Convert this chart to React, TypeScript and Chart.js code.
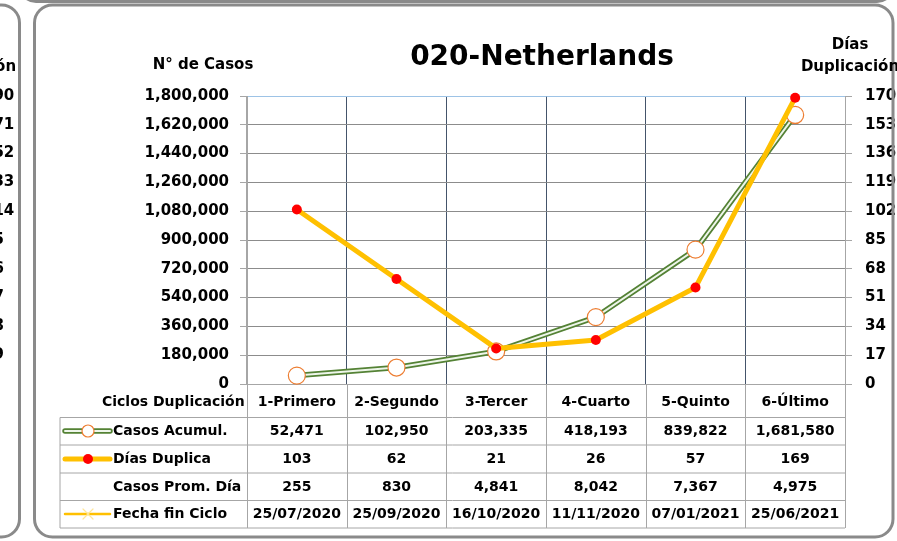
import React, { useEffect, useRef } from 'react';
import { Chart, registerables } from 'chart.js';

Chart.register(...registerables);

const TITLE = '020-Netherlands';
const LEFT_AXIS_TITLE = 'N° de Casos';
const RIGHT_AXIS_TITLE = ['Días', 'Duplicación'];
const TABLE_HEADER = 'Ciclos Duplicación';

const categories = ['1-Primero', '2-Segundo', '3-Tercer', '4-Cuarto', '5-Quinto', '6-Último'];
const casosAcumul = [52471, 102950, 203335, 418193, 839822, 1681580];
const diasDuplica = [103, 62, 21, 26, 57, 169];
const casosPromDia = [255, 830, 4841, 8042, 7367, 4975];
const fechaFinCiclo = ['25/07/2020', '25/09/2020', '16/10/2020', '11/11/2020', '07/01/2021', '25/06/2021'];

const rowLabels = ['Casos Acumul.', 'Días Duplica', 'Casos Prom. Día', 'Fecha fin Ciclo'];

const leftAxisMax = 1800000;
const leftAxisStep = 180000;
const rightAxisMax = 170;
const rightAxisStep = 17;

// clipped tick labels of the neighbouring (previous) panel
const prevPanelTicks = ['190', '171', '152', '133', '114', '95', '76', '57', '38', '19', '0'];

const FONT = '"DejaVu Sans", sans-serif';
const fmt = (v: number) => Number(v).toLocaleString('en-US');

function roundRectPath(ctx: CanvasRenderingContext2D, x: number, y: number, w: number, h: number, r: number) {
  ctx.beginPath();
  ctx.moveTo(x + r, y);
  ctx.lineTo(x + w - r, y);
  ctx.arcTo(x + w, y, x + w, y + r, r);
  ctx.lineTo(x + w, y + h - r);
  ctx.arcTo(x + w, y + h, x + w - r, y + h, r);
  ctx.lineTo(x + r, y + h);
  ctx.arcTo(x, y + h, x, y + h - r, r);
  ctx.lineTo(x, y + r);
  ctx.arcTo(x, y, x + r, y, r);
  ctx.closePath();
}

const decorPlugin = {
  id: 'decor',
  beforeDraw(chart: any) {
    const ctx = chart.ctx as CanvasRenderingContext2D;
    ctx.save();
    ctx.fillStyle = '#FFFFFF';
    ctx.fillRect(0, 0, chart.width, chart.height);
    ctx.restore();
  },
  afterDraw(chart: any) {
    const ctx = chart.ctx as CanvasRenderingContext2D;
    const xs = chart.scales.x;
    const yR = chart.scales.yR;
    ctx.save();

    // panel frames
    ctx.strokeStyle = '#8A8A8A';
    ctx.lineWidth = 3;
    roundRectPath(ctx, 20, -40, 873, 41.5, 16);
    ctx.stroke();
    roundRectPath(ctx, -860, 5, 879.5, 532, 18);
    ctx.stroke();
    roundRectPath(ctx, 34.5, 5, 858.5, 532, 18);
    ctx.stroke();

    // neighbouring panel fragments
    ctx.save();
    ctx.beginPath();
    ctx.rect(0, 0, 17.5, chart.height);
    ctx.clip();
    ctx.fillStyle = '#000';
    ctx.font = `bold 15px ${FONT}`;
    ctx.textAlign = 'left';
    ctx.textBaseline = 'middle';
    prevPanelTicks.forEach((t, i) => {
      ctx.fillText(t, 866 - 883, yR.getPixelForValue(rightAxisMax - rightAxisStep * i));
    });
    ctx.textAlign = 'center';
    ctx.fillText(RIGHT_AXIS_TITLE[0], 850 - 883, 45);
    ctx.fillText(RIGHT_AXIS_TITLE[1], 850 - 883, 67);
    ctx.restore();

    // title and axis titles
    ctx.fillStyle = '#000';
    ctx.textBaseline = 'middle';
    ctx.textAlign = 'center';
    ctx.font = `bold 28px ${FONT}`;
    ctx.fillText(TITLE, 542, 58);
    ctx.font = `bold 15px ${FONT}`;
    ctx.fillText(LEFT_AXIS_TITLE, 203, 65);
    ctx.fillText(RIGHT_AXIS_TITLE[0], 850, 45);
    ctx.fillText(RIGHT_AXIS_TITLE[1], 850, 67);

    // data table
    const right = xs.right;
    const tableLeft = 60;
    const axisY = xs.top;
    const rowLines = [417.5, 445, 473, 500.5, 528];
    const rowCenters = [431, 459, 487, 514];
    const colW = xs.getPixelForValue(1) - xs.getPixelForValue(0);

    ctx.strokeStyle = '#A6A6A6';
    ctx.lineWidth = 1;
    rowLines.forEach((yy) => {
      ctx.beginPath();
      ctx.moveTo(tableLeft, yy);
      ctx.lineTo(right, yy);
      ctx.stroke();
    });
    ctx.beginPath();
    ctx.moveTo(tableLeft, rowLines[0]);
    ctx.lineTo(tableLeft, rowLines[rowLines.length - 1]);
    ctx.stroke();
    for (let i = 0; i <= categories.length; i++) {
      const gx = i < categories.length ? xs.getPixelForValue(i) - colW / 2 : right;
      ctx.beginPath();
      ctx.moveTo(Math.round(gx) + 0.5, axisY);
      ctx.lineTo(Math.round(gx) + 0.5, rowLines[rowLines.length - 1]);
      ctx.stroke();
    }

    ctx.fillStyle = '#000';
    ctx.font = `bold 14px ${FONT}`;
    ctx.textAlign = 'left';
    ctx.fillText(TABLE_HEADER, 102, 402);
    rowLabels.forEach((lab, r) => ctx.fillText(lab, 113, rowCenters[r]));

    ctx.textAlign = 'center';
    const rows = [casosAcumul.map(fmt), diasDuplica.map(fmt), casosPromDia.map(fmt), fechaFinCiclo];
    rows.forEach((vals, r) => {
      vals.forEach((v, i) => ctx.fillText(String(v), xs.getPixelForValue(i), rowCenters[r] + 0.5));
    });

    // legend keys
    const kx0 = 65, kx1 = 110, kc = 88;
    let ky = rowCenters[0];
    ctx.lineCap = 'round';
    ctx.strokeStyle = '#548235';
    ctx.lineWidth = 5.5;
    ctx.beginPath(); ctx.moveTo(kx0, ky); ctx.lineTo(kx1, ky); ctx.stroke();
    ctx.strokeStyle = '#EEF6EA';
    ctx.lineWidth = 2;
    ctx.beginPath(); ctx.moveTo(kx0, ky); ctx.lineTo(kx1, ky); ctx.stroke();
    ctx.beginPath(); ctx.arc(kc, ky, 6, 0, Math.PI * 2);
    ctx.fillStyle = '#FFFFFF'; ctx.fill();
    ctx.strokeStyle = '#ED7D31'; ctx.lineWidth = 1.2; ctx.stroke();

    ky = rowCenters[1];
    ctx.strokeStyle = '#FFC000';
    ctx.lineWidth = 5;
    ctx.beginPath(); ctx.moveTo(kx0, ky); ctx.lineTo(kx1, ky); ctx.stroke();
    ctx.beginPath(); ctx.arc(kc, ky, 5, 0, Math.PI * 2);
    ctx.fillStyle = '#FF0000'; ctx.fill();

    ky = rowCenters[3];
    ctx.strokeStyle = '#FFC000';
    ctx.lineWidth = 2.5;
    ctx.beginPath(); ctx.moveTo(kx0, ky); ctx.lineTo(kx1, ky); ctx.stroke();
    ctx.strokeStyle = '#FFE699';
    ctx.lineWidth = 1.2;
    ctx.beginPath();
    ctx.moveTo(kc - 5, ky - 5); ctx.lineTo(kc + 5, ky + 5);
    ctx.moveTo(kc - 5, ky + 5); ctx.lineTo(kc + 5, ky - 5);
    ctx.stroke();

    ctx.restore();
  },
};

export default function App() {
  const canvasRef = useRef<HTMLCanvasElement | null>(null);

  useEffect(() => {
    if (!canvasRef.current) return;
    const tickFont = { family: FONT, size: 15, weight: 'bold' as const };
    const chart = new Chart(canvasRef.current, {
      type: 'line',
      data: {
        labels: categories,
        datasets: [
          {
            label: 'Días Duplica',
            data: diasDuplica,
            yAxisID: 'yR',
            borderColor: '#FFC000',
            borderWidth: 5,
            borderJoinStyle: 'round',
            pointRadius: 5,
            pointBackgroundColor: '#FF0000',
            pointBorderColor: '#FF0000',
            pointBorderWidth: 0,
            tension: 0,
            clip: false,
            order: 0,
          },
          {
            label: 'Casos Acumul. (marcadores)',
            data: casosAcumul,
            yAxisID: 'yL',
            showLine: false,
            pointRadius: 8.5,
            pointBackgroundColor: '#FFFFFF',
            pointBorderColor: '#ED7D31',
            pointBorderWidth: 1.2,
            clip: false,
            order: 1,
          },
          {
            label: 'Casos Acumul. (interior)',
            data: casosAcumul,
            yAxisID: 'yL',
            borderColor: '#EEF6EA',
            borderWidth: 2,
            pointRadius: 0,
            tension: 0,
            clip: false,
            order: 2,
          },
          {
            label: 'Casos Acumul.',
            data: casosAcumul,
            yAxisID: 'yL',
            borderColor: '#548235',
            borderWidth: 5.5,
            borderJoinStyle: 'round',
            pointRadius: 0,
            tension: 0,
            clip: false,
            order: 3,
          },
        ],
      },
      options: {
        responsive: false,
        animation: false,
        events: [],
        layout: { padding: { top: 96, left: 0, right: 0, bottom: 0 } },
        plugins: {
          legend: { display: false },
          tooltip: { enabled: false },
          title: { display: false },
        },
        scales: {
          x: {
            type: 'category',
            offset: true,
            grid: {
              offset: true,
              drawTicks: false,
              lineWidth: 1,
              color: (c: any) => (c.index === 0 || c.index >= categories.length ? '#A6A6A6' : '#44546A'),
            },
            border: { display: true, color: '#A6A6A6' },
            ticks: {
              font: { family: FONT, size: 14, weight: 'bold' },
              color: '#000',
              padding: 10,
              maxRotation: 0,
              autoSkip: false,
            },
            afterFit: (s: any) => {
              s.height = 157;
            },
          },
          yL: {
            position: 'left',
            min: 0,
            max: leftAxisMax,
            ticks: {
              stepSize: leftAxisStep,
              font: tickFont,
              color: '#000',
              padding: 11,
              callback: (v: any) => fmt(Number(v)),
            },
            grid: {
              color: (c: any) => (c.tick && c.tick.value === leftAxisMax ? '#9DC3E6' : '#8C8C8C'),
              tickColor: '#A6A6A6',
              tickLength: 7,
              lineWidth: 1,
            },
            border: { color: '#A6A6A6' },
            afterFit: (s: any) => {
              s.width = 247;
            },
          },
          yR: {
            position: 'right',
            min: 0,
            max: rightAxisMax,
            ticks: {
              stepSize: rightAxisStep,
              font: tickFont,
              color: '#000',
              padding: 13,
              callback: (v: any) => String(v),
            },
            grid: {
              drawOnChartArea: false,
              tickColor: '#A6A6A6',
              tickLength: 7,
            },
            border: { color: '#A6A6A6' },
            afterFit: (s: any) => {
              s.width = 52;
            },
          },
        },
      },
      plugins: [decorPlugin],
    } as any);
    return () => chart.destroy();
  }, []);

  return (
    <div style={{ position: 'fixed', left: 0, top: 0, width: 897, height: 541, background: '#fff' }}>
      <canvas ref={canvasRef} width={897} height={541} style={{ display: 'block' }} />
    </div>
  );
}
